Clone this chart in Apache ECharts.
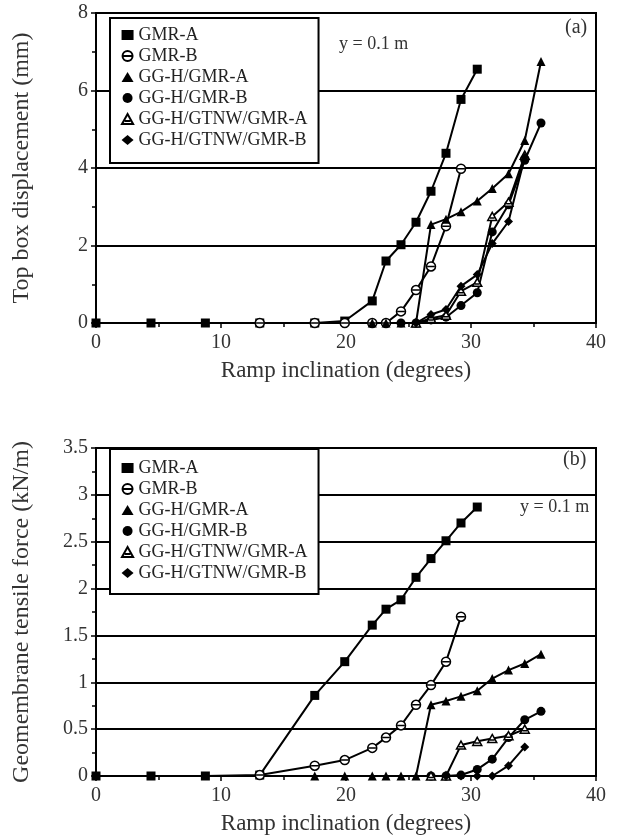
<!DOCTYPE html>
<html>
<head>
<meta charset="utf-8">
<script src="https://cdn.jsdelivr.net/npm/echarts@6/dist/echarts.min.js"></script>
<style>
html, body { margin: 0; padding: 0; background: #fff; }
#chart { width: 640px; height: 837px; }
</style>
</head>
<body>
<div id="chart"></div>
<script>
// series names
var names = ['GMR-A', 'GMR-B', 'GG-H/GMR-A', 'GG-H/GMR-B', 'GG-H/GTNW/GMR-A', 'GG-H/GTNW/GMR-B'];

// (a) top box displacement (mm)
var dispX_gmrA = [0, 4.4, 8.75, 13.1, 17.5, 19.9, 22.1, 23.2, 24.4, 25.6, 26.8, 28.0, 29.2, 30.5];
var dispY_gmrA = [0, 0, 0, 0, 0, 0.05, 0.57, 1.6, 2.02, 2.6, 3.4, 4.38, 5.77, 6.55];
var dispX_gmrB = [13.1, 17.5, 19.9, 22.1, 23.2, 24.4, 25.6, 26.8, 28.0, 29.2];
var dispY_gmrB = [0, 0, 0, 0, 0, 0.3, 0.85, 1.46, 2.5, 3.98];
var dispX_ggA = [22.1, 23.2, 24.4, 25.6, 26.8, 28.0, 29.2, 30.5, 31.7, 33.0, 34.3, 35.6];
var dispY_ggA = [0, 0, 0, 0, 2.54, 2.68, 2.87, 3.15, 3.47, 3.85, 4.71, 6.75];
var dispX_ggB = [24.4, 25.6, 26.8, 28.0, 29.2, 30.5, 31.7, 33.0, 34.3, 35.6];
var dispY_ggB = [0, 0, 0.08, 0.15, 0.45, 0.78, 2.35, 3.05, 4.2, 5.16];
var dispX_gtA = [25.6, 26.8, 28.0, 29.2, 30.5, 31.7, 33.0, 34.3];
var dispY_gtA = [0, 0.12, 0.2, 0.82, 1.05, 2.75, 3.12, 4.33];
var dispX_gtB = [25.6, 26.8, 28.0, 29.2, 30.5, 31.7, 33.0, 34.3];
var dispY_gtB = [0, 0.22, 0.35, 0.95, 1.25, 2.05, 2.62, 4.28];

// (b) geomembrane tensile force (kN/m)
var forceX_gmrA = [0, 4.4, 8.75, 13.1, 17.5, 19.9, 22.1, 23.2, 24.4, 25.6, 26.8, 28.0, 29.2, 30.5];
var forceY_gmrA = [0, 0, 0, 0.01, 0.86, 1.22, 1.61, 1.78, 1.88, 2.12, 2.32, 2.51, 2.70, 2.87];
var forceX_gmrB = [13.1, 17.5, 19.9, 22.1, 23.2, 24.4, 25.6, 26.8, 28.0, 29.2];
var forceY_gmrB = [0.01, 0.11, 0.17, 0.30, 0.41, 0.54, 0.76, 0.97, 1.22, 1.70];
var forceX_ggA = [17.5, 19.9, 22.1, 23.2, 24.4, 25.6, 26.8, 28.0, 29.2, 30.5, 31.7, 33.0, 34.3, 35.6];
var forceY_ggA = [0, 0, 0, 0, 0, 0, 0.76, 0.80, 0.85, 0.91, 1.04, 1.13, 1.20, 1.30];
var forceX_ggB = [26.8, 28.0, 29.2, 30.5, 31.7, 33.0, 34.3, 35.6];
var forceY_ggB = [0, 0, 0.01, 0.07, 0.18, 0.41, 0.60, 0.69];
var forceX_gtA = [26.8, 28.0, 29.2, 30.5, 31.7, 33.0, 34.3];
var forceY_gtA = [0, 0, 0.33, 0.37, 0.40, 0.43, 0.50];
var forceX_gtB = [28.0, 29.2, 30.5, 31.7, 33.0, 34.3];
var forceY_gtB = [0, 0, 0, 0, 0.11, 0.31];

var FONT = '"Liberation Serif", "DejaVu Serif", serif';
var TXT = '#333';

// open symbols with a bar inside
var symCircleBar = 'path://M10,0A10,10,0,1,1,10,20A10,10,0,1,1,10,0ZM2,10L18,10';
var symTriBar = 'path://M10,0L20,18L0,18ZM5,12.5L15,12.5';

var symbols = ['rect', symCircleBar, 'triangle', 'circle', symTriBar, 'diamond'];
var sizes = [9, 9, 9, 9, 9, 9];
var openSym = [false, true, false, false, true, false];

function pairs(xs, ys) {
	var out = [];
	for (var i = 0; i < xs.length; i++) out.push([xs[i], ys[i]]);
	return out;
}

function makeSeries(idx, gridIdx, xs, ys) {
	return {
		name: names[idx],
		type: 'line',
		xAxisIndex: gridIdx,
		yAxisIndex: gridIdx,
		data: pairs(xs, ys),
		symbol: symbols[idx],
		symbolSize: sizes[idx],
		symbolKeepAspect: true,
		showAllSymbol: true,
		animation: false,
		lineStyle: { color: '#000', width: 2 },
		itemStyle: {
			color: openSym[idx] ? '#fff' : '#000',
			borderColor: '#000',
			borderWidth: openSym[idx] ? 1.5 : 0
		},
		emphasis: { disabled: true }
	};
}

function xAxisOpt(gridIdx, gap) {
	return {
		type: 'value', gridIndex: gridIdx, min: 0, max: 40, interval: 10,
		name: 'Ramp inclination (degrees)', nameLocation: 'middle', nameGap: gap,
		nameTextStyle: { fontFamily: FONT, fontSize: 23, color: TXT },
		axisLine: { lineStyle: { color: '#000', width: 2 } },
		axisTick: { length: 5, lineStyle: { color: '#000', width: 1.5 } },
		minorTick: { show: true, splitNumber: 2, length: 4, lineStyle: { color: '#000', width: 1.5 } },
		axisLabel: { fontFamily: FONT, fontSize: 20, color: TXT, margin: 10 },
		splitLine: { show: false }
	};
}

function yAxisOpt(gridIdx, max, step, title) {
	return {
		type: 'value', gridIndex: gridIdx, min: 0, max: max, interval: step,
		name: title, nameLocation: 'middle', nameGap: 62, nameRotate: 90,
		nameTextStyle: { fontFamily: FONT, fontSize: 24, color: TXT },
		axisLine: { show: true, lineStyle: { color: '#000', width: 2 } },
		axisTick: { show: true, length: 5, lineStyle: { color: '#000', width: 1.5 } },
		minorTick: { show: true, splitNumber: 2, length: 4, lineStyle: { color: '#000', width: 1.5 } },
		axisLabel: { fontFamily: FONT, fontSize: 20, color: TXT, margin: 8 },
		splitLine: { show: true, lineStyle: { color: '#000', width: 2 } }
	};
}

function legendOpt(top, pad) {
	var data = [];
	for (var i = 0; i < names.length; i++) data.push({ name: names[i], icon: symbols[i] });
	return {
		orient: 'vertical', left: 110, top: top,
		padding: pad, itemGap: 3, itemWidth: 12, itemHeight: 10,
		symbolKeepAspect: true,
		selectedMode: false,
		backgroundColor: '#fff', borderColor: '#000', borderWidth: 2,
		textStyle: { fontFamily: FONT, fontSize: 18, lineHeight: 18, color: '#222' },
		data: data
	};
}

var chartObj = echarts.init(document.getElementById('chart'), null, { renderer: 'canvas' });

var option = {
	backgroundColor: '#fff',
	animation: false,
	grid: [
		{ left: 96, top: 13, width: 500, height: 310, show: true, borderColor: '#000', borderWidth: 2, backgroundColor: 'transparent' },
		{ left: 96, top: 448, width: 500, height: 328, show: true, borderColor: '#000', borderWidth: 2, backgroundColor: 'transparent' }
	],
	xAxis: [xAxisOpt(0, 36), xAxisOpt(1, 36)],
	yAxis: [
		yAxisOpt(0, 8, 2, 'Top box displacement (mm)'),
		yAxisOpt(1, 3.5, 0.5, 'Geomembrane tensile force (kN/m)')
	],
	legend: [legendOpt(18, [8, 11, 14, 11]), legendOpt(449, [10, 11, 12, 11])],
	graphic: [
		{ type: 'text', left: 565, top: 18, style: { text: '(a)', font: '20px ' + FONT, fill: TXT } },
		{ type: 'text', left: 339, top: 35, style: { text: 'y = 0.1 m', font: '18px ' + FONT, fill: TXT } },
		{ type: 'text', left: 563, top: 450, style: { text: '(b)', font: '20px ' + FONT, fill: TXT } },
		{ type: 'text', left: 520, top: 498, style: { text: 'y = 0.1 m', font: '18px ' + FONT, fill: TXT } }
	],
	series: [
		makeSeries(0, 0, dispX_gmrA, dispY_gmrA),
		makeSeries(1, 0, dispX_gmrB, dispY_gmrB),
		makeSeries(2, 0, dispX_ggA, dispY_ggA),
		makeSeries(3, 0, dispX_ggB, dispY_ggB),
		makeSeries(4, 0, dispX_gtA, dispY_gtA),
		makeSeries(5, 0, dispX_gtB, dispY_gtB),
		makeSeries(0, 1, forceX_gmrA, forceY_gmrA),
		makeSeries(1, 1, forceX_gmrB, forceY_gmrB),
		makeSeries(2, 1, forceX_ggA, forceY_ggA),
		makeSeries(3, 1, forceX_ggB, forceY_ggB),
		makeSeries(4, 1, forceX_gtA, forceY_gtA),
		makeSeries(5, 1, forceX_gtB, forceY_gtB)
	]
};

chartObj.setOption(option);
</script>
</body>
</html>
